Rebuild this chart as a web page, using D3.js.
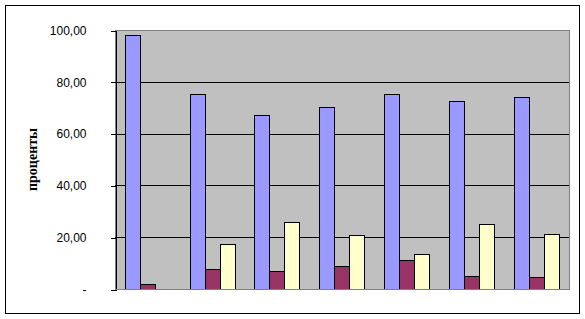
<!DOCTYPE html>
<html>
<head>
<meta charset="utf-8">
<script src="https://cdn.jsdelivr.net/npm/d3@7"></script>
<style>
  body { margin: 0; background: #fff; }
  svg { display: block; }
</style>
</head>
<body>
<svg></svg>
<script>
let width = 585;
let height = 319;

// data
let categories = ['1', '2', '3', '4', '5', '6', '7'];
let seriesNames = ['s1', 's2', 's3'];
let blueValues = [98.1, 75.3, 67.2, 70.3, 75.3, 72.6, 74.1];
let maroonValues = [1.8, 7.6, 6.8, 8.8, 11.1, 4.9, 4.5];
let yellowValues = [0, 17.3, 25.8, 20.7, 13.5, 25.0, 21.1];
let yTicks = [0, 20, 40, 60, 80, 100];
let colors = ['#9999FF', '#993366', '#FFFFCC'];

let series = [blueValues, maroonValues, yellowValues];

let svg = d3.select('svg')
            .attr('width', width)
            .attr('height', height)
            .attr('shape-rendering', 'crispEdges');

// chart border
svg.append('rect')
   .attr('x', 5.5).attr('y', 5.5)
   .attr('width', 574).attr('height', 308)
   .attr('fill', '#fff')
   .attr('stroke', '#000');

let plot = {left: 115, top: 30, right: 569, bottom: 289};

let x0 = d3.scaleBand()
           .domain(categories)
           .range([plot.left, plot.right])
           .paddingInner(0.3)
           .paddingOuter(0.15);

let x1 = d3.scaleBand()
           .domain(seriesNames)
           .range([0, x0.bandwidth()]);

let y = d3.scaleLinear()
          .domain([0, 100])
          .range([plot.bottom, plot.top]);

// plot area
svg.append('rect')
   .attr('x', plot.left + 0.5).attr('y', plot.top + 0.5)
   .attr('width', plot.right - plot.left).attr('height', plot.bottom - plot.top)
   .attr('fill', '#C0C0C0')
   .attr('stroke', '#808080');

// grid lines
svg.append('g')
   .selectAll('line')
   .data(yTicks.filter(d => d > 0 && d < 100))
   .enter()
   .append('line')
   .attr('x1', plot.left)
   .attr('x2', plot.right)
   .attr('y1', d => Math.round(y(d)) + 0.5)
   .attr('y2', d => Math.round(y(d)) + 0.5)
   .attr('stroke', '#000');

// bars
let groups = svg.append('g')
   .selectAll('g')
   .data(categories)
   .enter()
   .append('g')
   .attr('transform', d => 'translate(' + x0(d) + ',0)');

groups.selectAll('rect')
   .data((d, i) => series.map((s, j) => ({name: seriesNames[j], value: s[i], color: colors[j]})))
   .enter()
   .filter(d => d.value > 0)
   .append('rect')
   .attr('x', d => Math.round(x1(d.name)) + 0.5)
   .attr('y', d => Math.round(y(d.value)) + 0.5)
   .attr('width', Math.round(x1.bandwidth()))
   .attr('height', d => Math.round(y(0)) - Math.round(y(d.value)))
   .attr('fill', d => d.color)
   .attr('stroke', '#000');

// y axis
let yAxis = d3.axisLeft(y)
              .tickValues(yTicks)
              .tickSize(5)
              .tickPadding(24)
              .tickFormat(d => d === 0 ? '-' : d3.format('.2f')(d).replace('.', ','));

let gy = svg.append('g')
   .attr('transform', 'translate(' + (plot.left + 0.5) + ',0.5)')
   .call(yAxis);

gy.select('.domain').attr('stroke', '#000');
gy.selectAll('.tick line').attr('stroke', '#000');
gy.selectAll('.tick text')
  .style('font-family', 'Arial, "Liberation Sans", sans-serif')
  .style('font-size', '12px')
  .attr('fill', '#000');

// bottom axis line
svg.append('line')
   .attr('x1', plot.left).attr('x2', plot.right + 1)
   .attr('y1', plot.bottom + 0.5).attr('y2', plot.bottom + 0.5)
   .attr('stroke', '#808080');

// y label
svg.append('text')
   .attr('transform', 'translate(37,' + ((plot.top + plot.bottom) / 2) + ') rotate(-90)')
   .attr('text-anchor', 'middle')
   .style('font-family', '"Times New Roman", "Liberation Serif", serif')
   .style('font-weight', 'bold')
   .style('font-size', '14px')
   .text('проценты');
</script>
</body>
</html>
